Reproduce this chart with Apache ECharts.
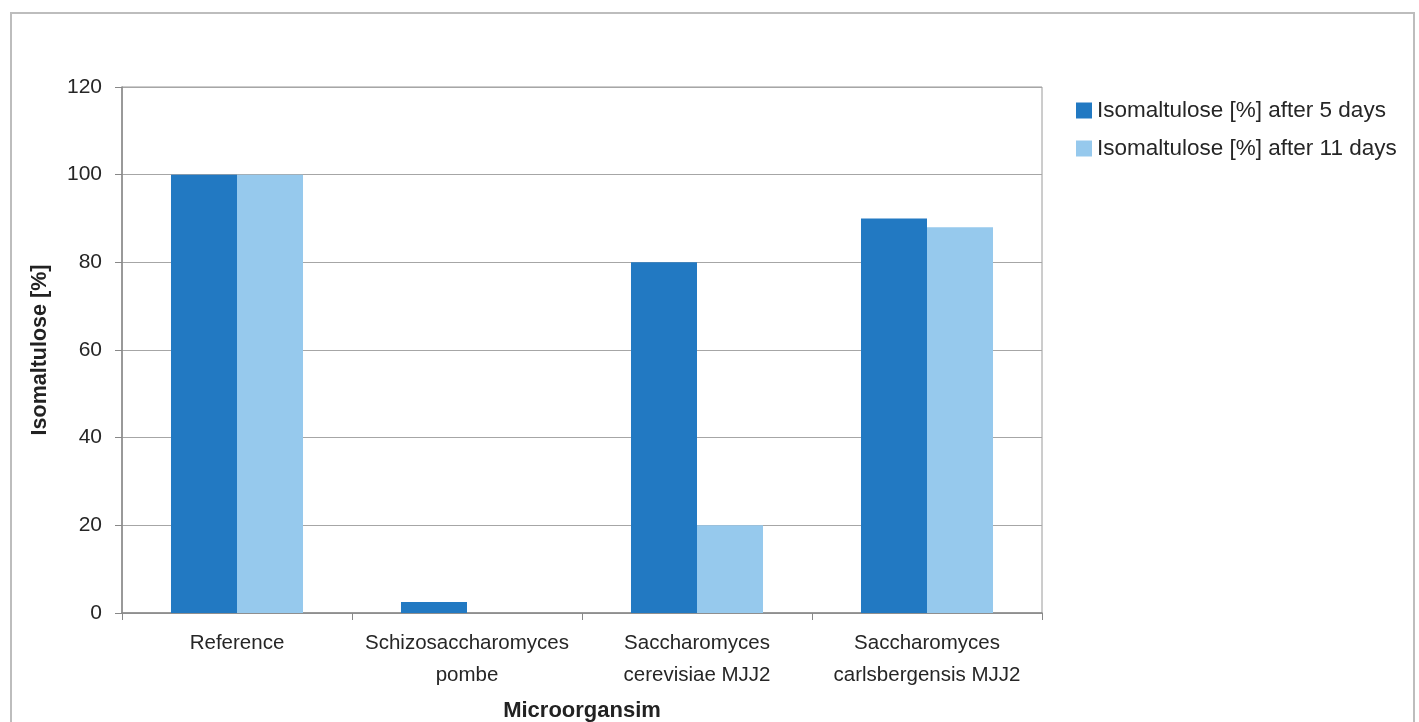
<!DOCTYPE html>
<html>
<head>
<meta charset="utf-8">
<script src="https://cdn.jsdelivr.net/npm/echarts@6/dist/echarts.min.js"></script>
<style>
  html, body { margin: 0; padding: 0; background: #fff; }
  #chart { width: 1419px; height: 722px; }
</style>
</head>
<body>
<div id="chart"></div>
<script>
// Isomaltulose remaining per microorganism, two sampling times
const categories = [
  'Reference',
  'Schizosaccharomyces\npombe',
  'Saccharomyces\ncerevisiae MJJ2',
  'Saccharomyces\ncarlsbergensis MJJ2'
];
const after5Days = [100, 2.5, 80, 90];
const after11Days = [100, 0, 20, 88];
const seriesNames = ['Isomaltulose [%] after 5 days', 'Isomaltulose [%] after 11 days'];
const yTicks = { min: 0, max: 120, step: 20 };

const FONT = '"Liberation Sans", Arial, sans-serif';
const chart = echarts.init(document.getElementById('chart'), null, { renderer: 'canvas' });

chart.setOption({
  backgroundColor: '#ffffff',
  animation: false,
  textStyle: { fontFamily: FONT },
  graphic: [{
    type: 'rect',
    shape: { x: 11, y: 13, width: 1403, height: 740 },
    style: { fill: 'none', stroke: '#bdbdbd', lineWidth: 2 },
    silent: true,
    z: -10
  }],
  grid: {
    left: 122, top: 87, right: 377, bottom: 109,
    outerBoundsMode: 'none',
    containLabel: false,
    show: true, borderColor: '#9a9a9a', borderWidth: 1, backgroundColor: 'transparent'
  },
  legend: {
    orient: 'vertical',
    left: 1071, top: 94,
    itemWidth: 16, itemHeight: 16, itemGap: 15,
    icon: 'rect',
    textStyle: { fontFamily: FONT, fontSize: 22.5, color: '#262626' },
    data: seriesNames
  },
  xAxis: {
    type: 'category',
    data: categories,
    name: 'Microorgansim',
    nameLocation: 'middle',
    nameGap: 87,
    nameTextStyle: { fontFamily: FONT, fontSize: 22, fontWeight: 'bold', color: '#222' },
    axisLine: { lineStyle: { color: '#888', width: 1.5 } },
    axisTick: { show: true, alignWithLabel: false, length: 7, lineStyle: { color: '#888' } },
    axisLabel: { fontFamily: FONT, fontSize: 20.5, color: '#262626', lineHeight: 32, margin: 14, interval: 0 }
  },
  yAxis: {
    type: 'value',
    min: yTicks.min, max: yTicks.max, interval: yTicks.step,
    name: 'Isomaltulose [%]',
    nameLocation: 'middle',
    nameGap: 71,
    nameRotate: 90,
    nameTextStyle: { fontFamily: FONT, fontSize: 21.5, fontWeight: 'bold', color: '#222' },
    axisLine: { show: true, lineStyle: { color: '#888', width: 1.5 } },
    axisTick: { show: true, length: 7, lineStyle: { color: '#888' } },
    axisLabel: { fontFamily: FONT, fontSize: 21, color: '#262626', margin: 20 },
    splitLine: { show: true, lineStyle: { color: '#a6a6a6', width: 1 } }
  },
  series: [
    {
      name: seriesNames[0], type: 'bar', data: after5Days,
      barGap: '0%', barCategoryGap: '42.6%',
      itemStyle: { color: '#2279c2' }
    },
    {
      name: seriesNames[1], type: 'bar', data: after11Days,
      barGap: '0%', barCategoryGap: '42.6%',
      itemStyle: { color: '#96c9ed' }
    }
  ]
});
</script>
</body>
</html>
